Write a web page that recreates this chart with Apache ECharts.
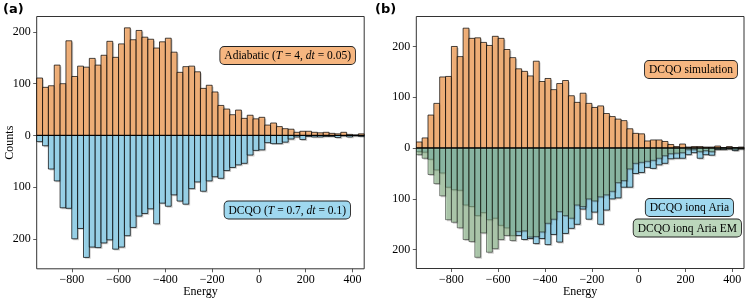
<!DOCTYPE html>
<html>
<head>
<meta charset="utf-8">
<script src="https://cdn.jsdelivr.net/npm/echarts@6/dist/echarts.min.js"></script>
<style>
html,body{margin:0;padding:0;background:#fff;}
#chart{width:747px;height:301px;}
</style>
</head>
<body>
<div id="chart"></div>
<script>
// ---- data ----
const binEdges = [-950,-925,-900,-875,-850,-825,-800,-775,-750,-725,-700,-675,-650,-625,-600,-575,-550,-525,-500,-475,-450,-425,-400,-375,-350,-325,-300,-275,-250,-225,-200,-175,-150,-125,-100,-75,-50,-25,0,25,50,75,100,125,150,175,200,225,250,275,300,325,350,375,400,425,450];

// panel (a) top: Adiabatic (T=4, dt=0.05)
const adiabatic = [111,93,96,136,100,183,114,134,132,149,136,155,182,151,177,208,185,203,190,186,169,181,188,161,122,133,134,123,91,97,84,58,51,40,49,33,39,32,35,20,24,17,13,12,6,8,8,6,5,6,4,3,6,2,1,3];

// panel (a) bottom: DCQO (T=0.7, dt=0.1)  == panel (b) top: DCQO simulation
const dcqo = [12,20,65,88,140,141,200,180,236,216,217,208,202,220,216,194,178,156,151,142,171,131,137,115,127,133,103,90,108,88,80,83,68,62,57,54,38,29,28,14,16,16,13,7,3,8,2,3,3,2,2,4,1,3,1,2];

// panel (b) bottom: DCQO ionq Aria
const ionqAria = [7,8,22,43,49,77,82,83,112,115,133,127,141,138,152,157,172,172,180,178,188,178,190,170,185,168,158,150,120,140,126,150,122,100,98,77,77,50,48,38,40,33,30,21,20,20,13,9,20,13,14,3,3,2,5,2];

// panel (b) bottom: DCQO ionq Aria EM
const ionqAriaEM = [13,20,52,70,94,141,146,157,180,184,215,167,205,198,180,172,182,164,163,175,174,165,148,140,125,133,138,112,115,100,104,96,92,85,68,64,41,30,28,26,24,20,15,11,10,9,3,3,7,5,7,2,2,1,3,1];

const xTicks = [-800,-600,-400,-200,0,200,400];
const yTicks = [-200,-100,0,100,200];

// ---- styling ----
const SERIF = "'Liberation Serif','DejaVu Serif',serif";
const ORANGE = 'rgba(244,164,96,0.8)';
const BLUE = 'rgba(135,206,235,0.8)';
const GREEN = 'rgba(143,188,143,0.6)';

function histData(vals, sign) {
  return vals.map((v, i) => [binEdges[i], binEdges[i + 1], sign * v]);
}

function makeRender(fill, stroke) {
  return function (params, api) {
    const a = api.coord([api.value(0), 0]);
    const b = api.coord([api.value(1), api.value(2)]);
    const x = a[0], w = b[0] - a[0];
    const y = Math.min(a[1], b[1]), h = Math.abs(b[1] - a[1]);
    return {
      type: 'group',
      children: [
        { type: 'rect', shape: { x: x + 1.4, y: y + 1.4, width: w, height: h },
          style: { fill: 'rgba(40,35,30,0.22)' } },
        { type: 'rect', shape: { x: x, y: y, width: w, height: h },
          style: { fill: fill, stroke: stroke, lineWidth: 0.9 } }
      ]
    };
  };
}

function histSeries(name, vals, sign, idx, fill, stroke) {
  return {
    type: 'custom', name: name, xAxisIndex: idx, yAxisIndex: idx,
    renderItem: makeRender(fill, stroke),
    encode: { x: [0, 1], y: 2 },
    data: histData(vals, sign),
    clip: true, silent: true
  };
}

function zeroLine(idx) {
  return {
    type: 'line', xAxisIndex: idx, yAxisIndex: idx, silent: true,
    data: [[binEdges[0], 0], [binEdges[binEdges.length - 1], 0]],
    symbol: 'none', lineStyle: { color: '#000', width: 1 }, z: 5, animation: false
  };
}

const minus = v => (v < 0 ? '\u2212' + Math.abs(v) : String(v));

function xAxis(idx) {
  return {
    type: 'value', gridIndex: idx, position: 'bottom',
    min: binEdges[0], max: binEdges[binEdges.length - 1],
    axisLine: { show: false, onZero: false }, splitLine: { show: false },
    axisTick: { show: true, customValues: xTicks, length: 3.5, lineStyle: { color: '#333', width: 0.8 } },
    axisLabel: { customValues: xTicks, formatter: minus, fontFamily: SERIF, fontSize: 12, color: '#000', margin: 5 },
    name: 'Energy', nameLocation: 'middle', nameGap: 17, nameMoveOverlap: false,
    nameTextStyle: { fontFamily: SERIF, fontSize: 12, color: '#000' }
  };
}

function yAxis(idx, min, max, withName) {
  const ax = {
    type: 'value', gridIndex: idx, position: 'left', min: min, max: max,
    axisLine: { show: false, onZero: false }, splitLine: { show: false },
    axisTick: { show: true, customValues: yTicks, length: 3.5, lineStyle: { color: '#333', width: 0.8 } },
    axisLabel: { customValues: yTicks, formatter: v => String(Math.abs(v)), fontFamily: SERIF, fontSize: 12, color: '#000', margin: 6 }
  };
  if (withName) {
    ax.name = 'Counts'; ax.nameLocation = 'middle'; ax.nameGap = 21; ax.nameMoveOverlap = false;
    ax.nameTextStyle = { fontFamily: SERIF, fontSize: 12, color: '#000' };
  }
  return ax;
}

function box(textRich, right, cy, bg) {
  return {
    type: 'text', x: right, y: cy, z: 100,
    style: {
      text: textRich, align: 'right', verticalAlign: 'middle',
      fontFamily: SERIF, fontSize: 11.5, fill: '#000',
      backgroundColor: bg, borderColor: '#222', borderWidth: 0.9, borderRadius: 4,
      padding: [3, 4, 2, 4],
      rich: {
        n: { fontFamily: SERIF, fontSize: 11.5, fill: '#000' },
        i: { fontFamily: SERIF, fontSize: 11.5, fontStyle: 'italic', fill: '#000' }
      }
    }
  };
}

const gridBase = { show: true, borderColor: '#333', borderWidth: 1, backgroundColor: 'transparent',
                   containLabel: false, outerBoundsMode: 'none' };

const chart = echarts.init(document.getElementById('chart'), null, { renderer: 'canvas' });
chart.setOption({
  animation: false,
  backgroundColor: '#fff',
  grid: [
    Object.assign({ left: 36.7, top: 16.5, width: 327.5, height: 252.3 }, gridBase),
    Object.assign({ left: 416.3, top: 16.5, width: 327.7, height: 252.0 }, gridBase)
  ],
  xAxis: [xAxis(0), xAxis(1)],
  yAxis: [yAxis(0, -258, 230, true), yAxis(1, -237, 259, false)],
  series: [
    histSeries('Adiabatic', adiabatic, 1, 0, ORANGE, 'rgba(0,0,0,0.8)'),
    histSeries('DCQO', dcqo, -1, 0, BLUE, 'rgba(0,0,0,0.8)'),
    zeroLine(0),
    histSeries('DCQO simulation', dcqo, 1, 1, ORANGE, 'rgba(0,0,0,0.8)'),
    histSeries('DCQO ionq Aria', ionqAria, -1, 1, BLUE, 'rgba(0,0,0,0.8)'),
    histSeries('DCQO ionq Aria EM', ionqAriaEM, -1, 1, GREEN, 'rgba(0,0,0,0.5)'),
    zeroLine(1)
  ],
  graphic: [
    { type: 'text', x: 3, y: 3, style: { text: '(a)', fontFamily: "'DejaVu Sans',sans-serif", fontWeight: 'bold', fontSize: 13, fill: '#000' } },
    { type: 'text', x: 375, y: 3, style: { text: '(b)', fontFamily: "'DejaVu Sans',sans-serif", fontWeight: 'bold', fontSize: 13, fill: '#000' } },
    box('{n|Adiabatic (}{i|T}{n| = 4, }{i|dt}{n| = 0.05)}', 355, 55.5, '#F6B680'),
    box('{n|DCQO (}{i|T}{n| = 0.7, }{i|dt}{n| = 0.1)}', 350, 210, '#9FD8EF'),
    box('{n|DCQO simulation}', 737, 69.5, '#F6B680'),
    box('{n|DCQO ionq Aria}', 733, 207.5, '#9FD8EF'),
    box('{n|DCQO ionq Aria EM}', 741, 228, '#BCD7BC')
  ]
});
</script>
</body>
</html>
